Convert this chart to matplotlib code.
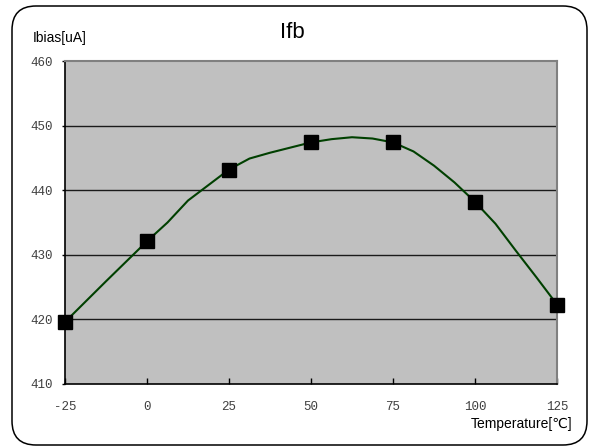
import matplotlib
matplotlib.use("Agg")
import matplotlib.pyplot as plt
from matplotlib.patches import FancyBboxPatch
from matplotlib.transforms import IdentityTransform

# Measured points (markers)
temps = [-25, 0, 25, 50, 75, 100, 125]
ibias = [419.6, 432.1, 443.2, 447.4, 447.4, 438.2, 422.3]

# Line trace
line_t = [-25, -12.5, 0, 6.25, 12.5, 18.75, 25, 31.25, 37.5, 43.75, 50,
          56.25, 62.5, 68.75, 75, 81.25, 87.5, 93.75, 100, 106.25, 112.5,
          118.75, 125]
line_v = [419.6, 425.9, 432.1, 435.0, 438.4, 440.8, 443.2, 444.9, 445.8,
          446.6, 447.4, 447.9, 448.2, 448.0, 447.4, 446.0, 443.8, 441.2,
          438.2, 434.8, 430.6, 426.5, 422.3]

xticks = [-25, 0, 25, 50, 75, 100, 125]
xtick_labels = ["-25", "0", "25", "50", "75", "100", "125"]
yticks = [410, 420, 430, 440, 450, 460]
ytick_labels = ["410", "420", "430", "440", "450", "460"]

title = "Ifb"
ylabel = "Ibias[uA]"
xlabel = "Temperature[℃]"

W, H = 589, 447
fig = plt.figure(figsize=(W / 100, H / 100), dpi=100)
fig.patch.set_facecolor("white")

frame = FancyBboxPatch((12, 2), 575, 439,
                       boxstyle="round,pad=0,rounding_size=24",
                       transform=IdentityTransform(), fill=False,
                       edgecolor="black", linewidth=1.1)
fig.patches.append(frame)

ax = fig.add_axes([65 / W, 1 - 384 / H, (557 - 65) / W, (384 - 61) / H])
ax.set_facecolor("#C0C0C0")
ax.set_xlim(-25, 125)
ax.set_ylim(410, 460)

for v in [420, 430, 440, 450]:
    ax.axhline(v, color="#1a1a1a", linewidth=1.0, zorder=1)

ax.plot(line_t, line_v, color="#004000", linewidth=1.5, zorder=2)
ax.plot(temps, ibias, linestyle="none", marker="s", markersize=9.5,
        markerfacecolor="black", markeredgecolor="black", zorder=3,
        clip_on=False)

for s in ["left", "bottom"]:
    ax.spines[s].set_color("black")
    ax.spines[s].set_linewidth(1.2)
for s in ["top", "right"]:
    ax.spines[s].set_color("#808080")
    ax.spines[s].set_linewidth(1.5)

tick_font = dict(family="Liberation Mono", size=9)
ax.set_xticks(xticks)
ax.set_xticklabels(xtick_labels, fontdict=tick_font, color="#404040")
ax.set_yticks(yticks)
ax.set_yticklabels(ytick_labels, fontdict=tick_font, color="#404040")
ax.tick_params(axis="x", direction="in", length=4, width=1, pad=12)
ax.tick_params(axis="y", direction="out", length=2, width=1, pad=7)

fig.text(292 / W, 1 - 32 / H, title, ha="center", va="center",
         fontsize=16, family=["Liberation Sans", "DejaVu Sans"])
fig.text(33 / W, 1 - 38 / H, ylabel, ha="left", va="center",
         fontsize=10, family=["Liberation Sans", "DejaVu Sans"])
fig.text(572 / W, 1 - 424 / H, xlabel, ha="right", va="center",
         fontsize=10, family=["Liberation Sans", "DejaVu Sans"])

fig.savefig("out.png", dpi=100)
